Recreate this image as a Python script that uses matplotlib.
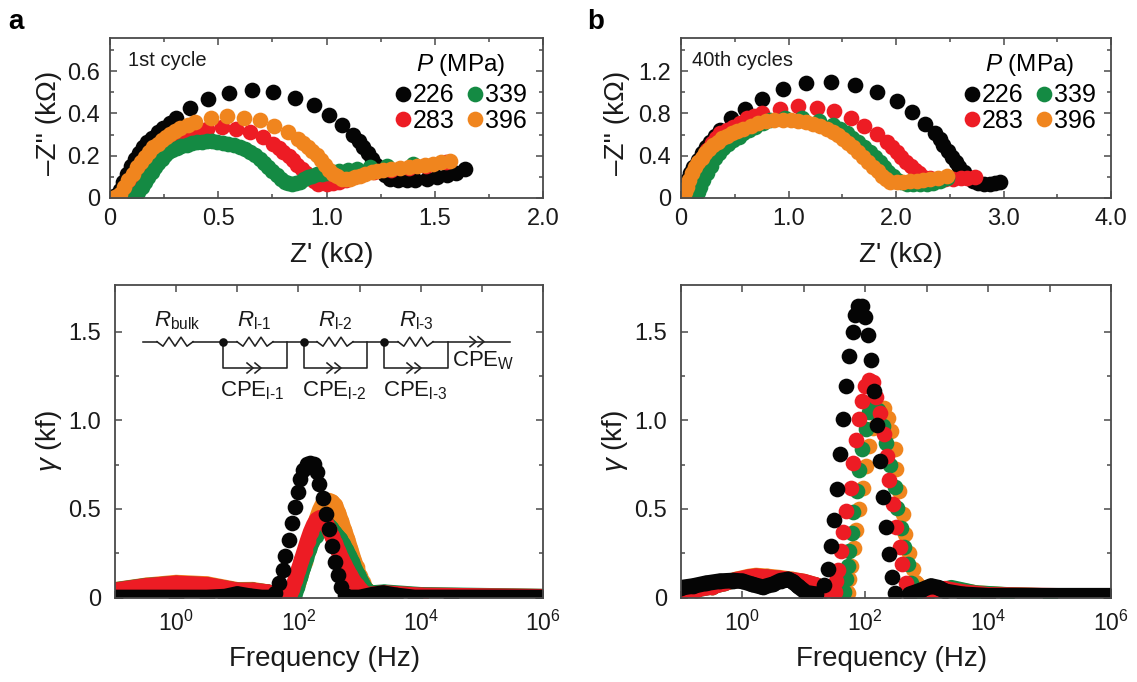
import matplotlib
matplotlib.use("Agg")
import matplotlib.pyplot as plt
import numpy as np
from matplotlib.lines import Line2D
from matplotlib.ticker import FixedLocator, FixedFormatter, NullLocator

plt.rcParams['font.family'] = ['Liberation Sans', 'DejaVu Sans']
plt.rcParams['mathtext.fontset'] = 'custom'
plt.rcParams['mathtext.rm'] = 'Liberation Sans'
plt.rcParams['mathtext.it'] = 'Liberation Sans:italic'
plt.rcParams['mathtext.bf'] = 'Liberation Sans:bold'

W, H = 1137, 682
BLACK, RED, GREEN, ORANGE = '#050505', '#ED1C24', '#148A43', '#F0851E'
AXC = '#4a4a4a'
PRESSURES = ['226', '283', '339', '396']
COLORS = dict(zip(PRESSURES, [BLACK, RED, GREEN, ORANGE]))
MS = 11.3

# ---------- Nyquist, 1st cycle (kOhm) ----------
a_x_226 = [0.0,0.02,0.046,0.06,0.077,0.096,0.116,0.135,0.154,0.173,0.193,0.22,0.247,0.275,0.303,0.37,0.451,0.551,0.655,0.755,0.855,0.942,1.013,1.07,1.124,1.15,1.17,1.19,1.209,1.228,1.247,1.27,1.294,1.33,1.37,1.41,1.463,1.51,1.555,1.60,1.64]
a_y_226 = [0.0,0.01,0.036,0.075,0.115,0.15,0.186,0.214,0.241,0.264,0.285,0.31,0.332,0.355,0.378,0.424,0.466,0.496,0.509,0.501,0.472,0.438,0.394,0.343,0.296,0.268,0.241,0.213,0.186,0.158,0.131,0.108,0.088,0.083,0.083,0.086,0.091,0.098,0.107,0.12,0.135]
a_x_283 = [0.085,0.105,0.123,0.15,0.185,0.215,0.247,0.278,0.308,0.34,0.37,0.41,0.447,0.516,0.582,0.647,0.708,0.755,0.78,0.801,0.825,0.847,0.866,0.886,0.905,0.924,0.943,0.963,1.0,1.03,1.06,1.09,1.124,1.17,1.22,1.3,1.38,1.46,1.55]
a_y_283 = [0.005,0.03,0.052,0.09,0.131,0.17,0.209,0.24,0.272,0.29,0.304,0.318,0.328,0.335,0.328,0.312,0.288,0.257,0.237,0.217,0.197,0.178,0.158,0.139,0.119,0.099,0.082,0.068,0.065,0.07,0.076,0.087,0.099,0.112,0.123,0.133,0.142,0.152,0.168]
a_x_339 = [0.116,0.13,0.146,0.16,0.177,0.192,0.208,0.224,0.239,0.254,0.27,0.288,0.308,0.33,0.354,0.377,0.4,0.423,0.447,0.47,0.493,0.52,0.547,0.574,0.6,0.623,0.647,0.67,0.693,0.712,0.732,0.75,0.77,0.79,0.809,0.824,0.839,0.858,0.878,0.897,0.916,0.935,0.955,0.977,1.0,1.03,1.06,1.1,1.14,1.2,1.28,1.4]
a_y_339 = [0.005,0.028,0.052,0.075,0.099,0.122,0.146,0.166,0.186,0.202,0.217,0.228,0.238,0.245,0.252,0.258,0.263,0.266,0.269,0.268,0.266,0.262,0.257,0.249,0.241,0.23,0.217,0.202,0.186,0.166,0.146,0.127,0.107,0.09,0.076,0.069,0.065,0.07,0.076,0.088,0.099,0.106,0.112,0.115,0.118,0.123,0.128,0.133,0.139,0.145,0.152,0.162]
a_x_396 = [0.023,0.046,0.065,0.085,0.104,0.123,0.142,0.162,0.181,0.2,0.22,0.239,0.258,0.277,0.3,0.323,0.358,0.393,0.465,0.542,0.619,0.693,0.758,0.82,0.87,0.893,0.916,0.935,0.955,0.974,0.993,1.012,1.032,1.05,1.07,1.09,1.109,1.13,1.155,1.18,1.209,1.235,1.263,1.3,1.34,1.38,1.417,1.455,1.494,1.53,1.571]
a_y_396 = [0.005,0.02,0.05,0.083,0.115,0.146,0.17,0.194,0.218,0.241,0.257,0.272,0.288,0.304,0.318,0.331,0.346,0.359,0.378,0.386,0.38,0.367,0.34,0.312,0.28,0.261,0.241,0.222,0.202,0.178,0.154,0.134,0.115,0.102,0.091,0.09,0.091,0.097,0.104,0.113,0.123,0.129,0.134,0.138,0.142,0.146,0.15,0.156,0.162,0.168,0.175]

# ---------- Nyquist, 40th cycles (kOhm) ----------
b_x_226 = [0.02,0.053,0.085,0.115,0.155,0.193,0.23,0.27,0.315,0.363,0.465,0.596,0.757,0.946,1.16,1.393,1.619,1.824,2.007,2.146,2.267,2.363,2.405,2.441,2.48,2.518,2.555,2.589,2.63,2.673,2.72,2.766,2.82,2.875,2.92,2.968]
b_y_226 = [0.05,0.17,0.235,0.296,0.36,0.421,0.48,0.531,0.59,0.642,0.752,0.846,0.94,1.028,1.088,1.101,1.066,1.003,0.915,0.814,0.704,0.61,0.555,0.5,0.445,0.39,0.34,0.296,0.245,0.201,0.165,0.138,0.13,0.132,0.14,0.148]
b_x_283 = [0.02,0.053,0.085,0.115,0.16,0.208,0.245,0.286,0.325,0.363,0.425,0.487,0.55,0.611,0.68,0.751,0.918,1.089,1.266,1.424,1.579,1.703,1.82,1.914,1.96,2.007,2.05,2.093,2.135,2.177,2.215,2.255,2.315,2.379,2.455,2.534,2.6,2.658,2.735]
b_y_283 = [0.03,0.075,0.155,0.233,0.31,0.39,0.455,0.516,0.565,0.61,0.642,0.673,0.712,0.752,0.78,0.808,0.846,0.868,0.852,0.821,0.761,0.682,0.604,0.531,0.485,0.437,0.39,0.343,0.303,0.264,0.232,0.201,0.188,0.176,0.177,0.179,0.185,0.192,0.201]
b_x_339 = [0.13,0.155,0.177,0.208,0.239,0.278,0.317,0.355,0.394,0.44,0.487,0.535,0.58,0.635,0.689,0.76,0.828,0.968,1.129,1.287,1.417,1.48,1.541,1.595,1.65,1.705,1.758,1.805,1.851,1.89,1.929,1.968,2.007,2.05,2.1,2.16,2.224,2.29,2.348,2.41,2.472]
b_y_339 = [0.013,0.06,0.107,0.17,0.233,0.305,0.374,0.422,0.469,0.51,0.547,0.58,0.61,0.642,0.673,0.705,0.736,0.761,0.761,0.73,0.689,0.65,0.61,0.57,0.531,0.484,0.437,0.39,0.343,0.295,0.248,0.208,0.17,0.148,0.132,0.13,0.129,0.136,0.145,0.165,0.186]
b_x_396 = [0.016,0.035,0.053,0.075,0.1,0.13,0.162,0.192,0.224,0.262,0.301,0.34,0.379,0.425,0.472,0.525,0.58,0.65,0.72,0.795,0.869,0.945,1.02,1.09,1.16,1.225,1.293,1.355,1.417,1.465,1.51,1.555,1.603,1.65,1.696,1.742,1.789,1.828,1.867,1.905,1.944,2.005,2.069,2.13,2.193,2.255,2.317,2.395,2.472]
b_y_396 = [0.013,0.06,0.107,0.17,0.233,0.29,0.343,0.382,0.421,0.46,0.5,0.532,0.563,0.587,0.61,0.634,0.657,0.685,0.711,0.725,0.736,0.74,0.742,0.732,0.72,0.7,0.679,0.653,0.626,0.592,0.557,0.52,0.484,0.437,0.39,0.343,0.296,0.253,0.211,0.18,0.154,0.154,0.154,0.158,0.164,0.171,0.179,0.193,0.208]

# ---------- DRT, 1st cycle: log10(frequency / Hz) and gamma (kf) ----------
c_f_226 = [-1,0,0.5,0.8,1.0,1.2,1.4,1.52,1.57,1.62,1.688,1.743,1.787,1.841,1.891,1.939,1.989,2.033,2.082,2.136,2.191,2.251,2.306,2.344,2.41,2.454,2.497,2.546,2.601,2.65,2.7,2.754,2.81,3.0,3.2,3.38,3.6,3.9,4.5,6]
c_g_226 = [0,0,0,0.005,0.02,0.008,0,0,0.005,0.023,0.08,0.155,0.236,0.325,0.419,0.513,0.598,0.668,0.72,0.754,0.762,0.754,0.707,0.641,0.56,0.472,0.385,0.291,0.202,0.127,0.061,0.014,0,0,0.015,0.025,0.012,0,0,0]
c_f_283 = [-1,-0.5,0,0.5,1.0,1.25,1.5,1.7,1.85,1.9,1.95,2.0,2.05,2.1,2.15,2.2,2.25,2.3,2.35,2.4,2.45,2.5,2.55,2.6,2.65,2.7,2.75,2.8,2.85,2.9,2.95,3.0,3.05,3.1,3.4,4,6]
c_g_283 = [0.04,0.065,0.08,0.072,0.04,0.04,0.03,0.01,0.0,0.05,0.1,0.155,0.21,0.265,0.32,0.37,0.41,0.44,0.45,0.445,0.42,0.385,0.345,0.305,0.265,0.225,0.19,0.155,0.125,0.095,0.07,0.05,0.03,0.015,0.025,0.012,0.004]
c_f_339 = [-1,-0.5,0,0.5,1.0,1.25,1.5,1.7,1.93,1.98,2.03,2.08,2.13,2.18,2.23,2.28,2.33,2.38,2.43,2.48,2.53,2.58,2.63,2.68,2.73,2.78,2.83,2.88,2.93,2.98,3.03,3.08,3.13,3.2,3.4,4,6]
c_g_339 = [0.042,0.066,0.078,0.07,0.04,0.04,0.03,0.01,0.0,0.06,0.115,0.17,0.225,0.275,0.32,0.35,0.375,0.395,0.405,0.41,0.395,0.37,0.35,0.33,0.3,0.27,0.235,0.2,0.155,0.125,0.09,0.06,0.035,0.025,0.03,0.015,0.005]
c_f_396 = [-1,-0.5,0,0.5,1.0,1.25,1.5,1.7,1.9,2.0,2.05,2.1,2.15,2.2,2.25,2.3,2.35,2.4,2.45,2.5,2.55,2.6,2.65,2.7,2.75,2.8,2.85,2.9,2.95,3.0,3.05,3.1,3.2,3.4,4,6]
c_g_396 = [0.043,0.068,0.084,0.076,0.043,0.044,0.03,0.01,0.0,0.08,0.14,0.2,0.265,0.33,0.39,0.447,0.495,0.53,0.545,0.547,0.54,0.52,0.48,0.43,0.38,0.33,0.275,0.22,0.17,0.12,0.085,0.05,0.02,0.025,0.012,0.004]

# ---------- DRT, 40th cycles ----------
d_f_226 = [-1,-0.8,-0.6,-0.37,-0.15,0,0.15,0.33,0.5,0.62,0.74,0.82,0.9,1.04,1.2,1.335,1.395,1.444,1.493,1.542,1.596,1.645,1.694,1.743,1.792,1.83,1.878,1.949,2.003,2.047,2.095,2.145,2.194,2.243,2.292,2.34,2.394,2.438,2.49,2.72,2.9,3.07,3.2,3.3,3.59,4,6]
d_g_226 = [0.055,0.065,0.08,0.092,0.096,0.092,0.075,0.058,0.075,0.095,0.102,0.09,0.065,0.027,0.018,0.068,0.162,0.29,0.44,0.615,0.808,1.006,1.192,1.364,1.501,1.597,1.646,1.646,1.586,1.482,1.339,1.166,0.972,0.77,0.57,0.398,0.243,0.118,0.027,0.018,0.04,0.065,0.055,0.035,0.018,0.01,0.01]
d_f_283 = [-1,-0.75,-0.5,-0.3,-0.1,0.1,0.22,0.4,0.6,0.8,1.0,1.2,1.35,1.51,1.525,1.563,1.607,1.645,1.694,1.76,1.797,1.846,1.895,1.944,1.992,2.057,2.122,2.177,2.243,2.312,2.357,2.394,2.448,2.502,2.557,2.6,2.665,2.73,3.0,3.3,3.6,4,6]
d_g_283 = [0.03,0.045,0.06,0.08,0.1,0.115,0.12,0.115,0.108,0.1,0.09,0.07,0.04,0.03,0.093,0.157,0.26,0.371,0.49,0.62,0.76,0.889,1.009,1.11,1.193,1.231,1.217,1.13,1.044,0.925,0.8,0.661,0.526,0.398,0.288,0.188,0.084,0.017,0.03,0.05,0.03,0.015,0.005]
d_f_339 = [-1,-0.75,-0.5,-0.3,-0.1,0.1,0.22,0.4,0.6,0.8,1.0,1.2,1.35,1.65,1.69,1.716,1.743,1.781,1.808,1.863,1.895,1.949,2.014,2.068,2.133,2.2,2.285,2.34,2.405,2.476,2.513,2.584,2.638,2.692,2.747,2.8,3.0,3.4,3.8,4.3,5,6]
d_g_339 = [0.03,0.045,0.06,0.08,0.098,0.112,0.118,0.113,0.106,0.098,0.088,0.068,0.04,0.03,0.102,0.176,0.26,0.366,0.483,0.6,0.72,0.836,0.95,1.05,1.11,1.06,0.97,0.874,0.75,0.626,0.505,0.39,0.288,0.188,0.084,0.017,0.02,0.055,0.025,0.015,0.008,0.0]
d_f_396 = [-1,-0.75,-0.5,-0.3,-0.1,0.1,0.22,0.4,0.6,0.8,1.0,1.2,1.35,1.715,1.742,1.77,1.813,1.85,1.905,1.96,2.014,2.068,2.13,2.2,2.26,2.312,2.367,2.421,2.476,2.503,2.546,2.611,2.654,2.709,2.774,2.828,3.0,3.4,3.8,4.3,5,6]
d_g_396 = [0.032,0.047,0.062,0.082,0.102,0.118,0.124,0.119,0.112,0.102,0.09,0.07,0.04,0.027,0.102,0.18,0.28,0.384,0.5,0.62,0.745,0.855,0.96,1.04,1.07,1.071,1.014,0.939,0.836,0.723,0.6,0.474,0.36,0.253,0.162,0.084,0.015,0.05,0.025,0.014,0.008,0.0]


def px_axes(l, t, r, b):
    return fig.add_axes([l / W, 1 - b / H, (r - l) / W, (b - t) / H])


def style(ax, xmaj, xmin, ymaj, ymin, xlab, ylab, xfmt, yfmt, xpad, ypad, xlp, ylp, xshift, yshift, xsize=17):
    for s in ax.spines.values():
        s.set_color(AXC)
        s.set_linewidth(1.3)
    ax.tick_params(which='major', direction='in', length=5, width=1.1, color=AXC, top=True, right=True,
                   labelsize=17, labelcolor='#1a1a1a')
    ax.tick_params(axis='x', which='major', pad=xpad, labelsize=xsize)
    ax.tick_params(axis='y', which='major', pad=ypad)
    ax.tick_params(which='minor', direction='in', length=3, width=1.1, color=AXC, top=True, right=True)
    ax.xaxis.set_major_locator(FixedLocator(xmaj))
    ax.yaxis.set_major_locator(FixedLocator(ymaj))
    ax.xaxis.set_minor_locator(FixedLocator(xmin) if xmin else NullLocator())
    ax.yaxis.set_minor_locator(FixedLocator(ymin))
    ax.xaxis.set_major_formatter(FixedFormatter(xfmt))
    ax.yaxis.set_major_formatter(FixedFormatter(yfmt))
    ax.set_xlabel(xlab, fontsize=20, color='#1a1a1a', labelpad=xlp, x=0.5 + xshift)
    ax.set_ylabel(ylab, fontsize=20, color='#1a1a1a', labelpad=ylp, y=0.5 + yshift)


def nyquist(ax, series, right_px, left_px, width_px):
    hs = []
    for p, (x, y) in zip(PRESSURES, series):
        h, = ax.plot(x, y, 'o', ms=MS, mew=0, color=COLORS[p], label=p)
        hs.append(h)
    leg = ax.legend(handles=hs, ncol=2, frameon=False, loc='upper right',
                    bbox_to_anchor=((right_px - left_px) / width_px, 0.915), fontsize=18,
                    title=r'$\mathit{P}$ (MPa)', title_fontsize=17.5,
                    handlelength=0.7, handletextpad=0.05, columnspacing=0.48, labelspacing=0.06,
                    borderaxespad=0, borderpad=0)
    leg._legend_box.sep = 4


def drt(ax, series, gaps):
    for p, (f, g) in zip(['396', '339', '283', '226'], series):
        f = np.array(f, dtype=float)
        g = np.array(g, dtype=float)
        hz = 10.0 ** f
        lo, hi = gaps[p]
        band = np.where((f > lo) & (f < hi), np.nan, g)
        ax.plot(hz, band, '-', lw=MS, color=COLORS[p], solid_capstyle='round')
        ax.plot(hz, g, 'o', ms=MS, mew=0, color=COLORS[p])


fig = plt.figure(figsize=(W / 100, H / 100), dpi=100)

ax_a = px_axes(110, 38.3, 543, 198)
nyquist(ax_a, [(a_x_226, a_y_226), (a_x_283, a_y_283), (a_x_339, a_y_339), (a_x_396, a_y_396)], 527, 110, 433)
ax_a.set_xlim(0, 2.0)
ax_a.set_ylim(0, 0.755)
style(ax_a, [0, .5, 1, 1.5, 2], [.25, .75, 1.25, 1.75], [0, .2, .4, .6], [.1, .3, .5, .7],
      "Z' (kΩ)", "–Z'' (kΩ)", ['0', '0.5', '1.0', '1.5', '2.0'], ['0', '0.2', '0.4', '0.6'],
      7, 7, 9, 4, 0.013, -0.03)

ax_b = px_axes(681, 38.3, 1111, 198)
nyquist(ax_b, [(b_x_226, b_y_226), (b_x_283, b_y_283), (b_x_339, b_y_339), (b_x_396, b_y_396)], 1096, 681, 430)
ax_b.set_xlim(0, 4.0)
ax_b.set_ylim(0, 1.51)
style(ax_b, [0, 1, 2, 3, 4], [.5, 1.5, 2.5, 3.5], [0, .4, .8, 1.2], [.2, .6, 1.0, 1.4],
      "Z' (kΩ)", "–Z'' (kΩ)", ['0', '1.0', '2.0', '3.0', '4.0'], ['0', '0.4', '0.8', '1.2'],
      7, 7, 9, 6, 0.01, -0.03)

dec = [10.0 ** k for k in range(-1, 7)]
dlab = ['', r'$10^{0}$', '', r'$10^{2}$', '', r'$10^{4}$', '', r'$10^{6}$']
no_gap = (0, 0)
for (rect, series, gaps, xs) in [
    ((115, 285, 543, 597.5), [(c_f_396, c_g_396), (c_f_339, c_g_339), (c_f_283, c_g_283), (c_f_226, c_g_226)],
     {'226': (1.55, 2.8), '283': no_gap, '339': no_gap, '396': no_gap}, -0.01),
    ((681, 285, 1111, 597.5), [(d_f_396, d_g_396), (d_f_339, d_g_339), (d_f_283, d_g_283), (d_f_226, d_g_226)],
     {'226': (1.3, 2.5), '283': (1.52, 2.72), '339': (1.66, 2.79), '396': (1.72, 2.82)}, -0.01),
]:
    ax = px_axes(*rect)
    drt(ax, series, gaps)
    ax.set_xscale('log')
    ax.set_xlim(0.1, 1e6)
    ax.set_ylim(0, 1.765)
    style(ax, dec, None, [0, .5, 1, 1.5], [.25, .75, 1.25], 'Frequency (Hz)', r'$\mathit{\gamma}$ (kf)',
          dlab, ['0', '0.5', '1.0', '1.5'], 9.5, 10, 7, 3, xs, 0.0, xsize=16.5)


def T(x, y, s, **kw):
    kw.setdefault('fontsize', 16)
    kw.setdefault('va', 'center')
    kw.setdefault('color', '#1a1a1a')
    fig.text(x / W, 1 - y / H, s, **kw)


def wire(xs, ys, lw=1.15, **kw):
    fig.add_artist(Line2D([x / W for x in xs], [1 - y / H for y in ys], color='#222222', lw=lw, **kw))


T(8, 22, 'a', fontsize=20, fontweight='bold', color='black')
T(587, 22, 'b', fontsize=20, fontweight='bold', color='black')
T(128, 60, '1st cycle', fontsize=14.5)
T(692, 60, '40th cycles', fontsize=14.5)

# equivalent circuit drawn in the lower-left panel
Y, Y2 = 341.7, 368


def resistor(x0, x1):
    n = 6
    xs = [x0 + (x1 - x0) * i / n for i in range(n + 1)]
    ys = [Y, Y + 4.5, Y - 4.5, Y + 4.5, Y - 4.5, Y + 4.5, Y]
    wire(xs, ys)


def chevrons(x, y):
    for dx in (0, 8):
        wire([x + dx, x + dx + 6, x + dx], [y - 5, y, y + 5])


wire([143, 157], [Y, Y]); resistor(157, 193); wire([193, 237], [Y, Y])
for node, r0, r1, right, chev, nxt in [(223, 237, 273, 287, 247, 317), (304, 317, 353, 367, 327, 398),
                                       (384, 398, 433, 448, 407, 510)]:
    resistor(r0, r1)
    wire([r1, nxt], [Y, Y])
    wire([node, node, right, right], [Y, Y2, Y2, Y])
    fig.add_artist(Line2D([node / W], [1 - Y / H], marker='o', ms=6.2, mew=0, color='#111111'))
    chevrons(chev, Y2)
chevrons(470, Y)

for x, s in [(154, r'$\mathit{R}_{\mathrm{bulk}}$'), (237, r'$\mathit{R}_{\mathrm{l\text{-}1}}$'),
             (318, r'$\mathit{R}_{\mathrm{l\text{-}2}}$'), (399, r'$\mathit{R}_{\mathrm{l\text{-}3}}$')]:
    T(x, 321, s, fontsize=16)
for x, s in [(220, r'CPE$_{\mathrm{l\text{-}1}}$'), (302, r'CPE$_{\mathrm{l\text{-}2}}$'),
             (383, r'CPE$_{\mathrm{l\text{-}3}}$'), (452, r'CPE$_{\mathrm{W}}$')]:
    T(x, 391 if x != 452 else 361, s, fontsize=16)

fig.savefig('out.png', dpi=100)
